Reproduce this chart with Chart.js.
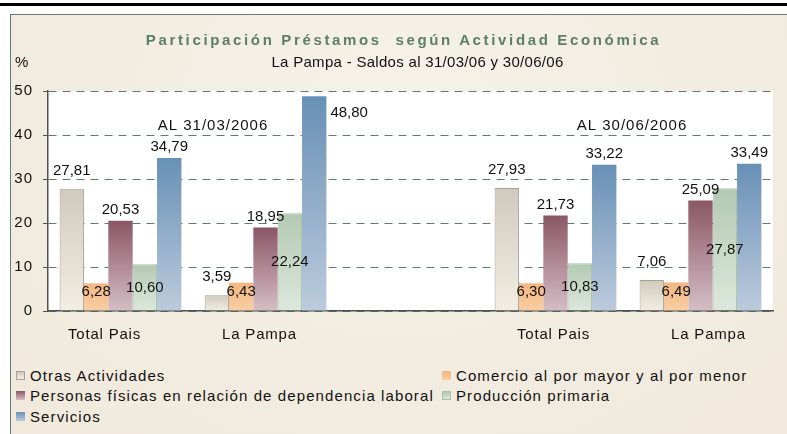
<!DOCTYPE html>
<html>
<head>
<meta charset="utf-8">
<script src="https://cdn.jsdelivr.net/npm/chart.js@4.4.0/dist/chart.umd.min.js"></script>
<style>
  body { margin: 0; width: 787px; height: 434px; overflow: hidden; background: #fff; position: relative;
         font-family: "Liberation Sans", Arial, sans-serif; color: #111; }
  #topline { position: absolute; left: 0; top: 3px; width: 787px; height: 3px; background: #000; }
  #frame { position: absolute; left: 10px; top: 14px; width: 777px; height: 420px;
           border-left: 1px solid #5f7f6f; border-top: 1px solid #5f7f6f;
           background: radial-gradient(ellipse at 50% 25%, #f6f2e9 0%, #f2ece0 60%, #f0e9dc 100%); }
  #grafico { position: absolute; left: 0; top: 0; }
  .titulo { position: absolute; left: 0; width: 787px; text-align: center; white-space: pre; }
  #t1 { top: 31px; left: 10px; font-size: 15px; font-weight: bold; color: #5e7e6c; letter-spacing: 2.65px; }
  #t2 { top: 53px; left: 24px; font-size: 15px; letter-spacing: 0.3px; }
  #pct { position: absolute; left: 15px; top: 53px; font-size: 15px; }
  #leyenda { position: absolute; left: 16px; top: 365px; display: grid;
             grid-template-columns: 426px auto; grid-auto-rows: 20.5px; font-size: 15px; letter-spacing: 1.1px; }
  #leyenda div { display: flex; align-items: center; white-space: nowrap; }
  #leyenda span.caja { width: 9px; height: 9px; margin-right: 5px; box-sizing: border-box; }
</style>
</head>
<body>
<div id="topline"></div>
<div id="frame"></div>
<canvas id="grafico" width="787" height="360"></canvas>
<div class="titulo" id="t1">Participación Préstamos  según Actividad Económica</div>
<div class="titulo" id="t2">La Pampa - Saldos al 31/03/06 y 30/06/06</div>
<div id="pct">%</div>
<div id="leyenda"></div>
<script>
const grupos = ["Total Pais", "La Pampa", "", "Total Pais", "La Pampa"];
const periodos = ["AL 31/03/2006", "AL 30/06/2006"];
const nombresSeries = [
  "Otras Actividades",
  "Comercio al por mayor y al por menor",
  "Personas físicas en relación de dependencia laboral",
  "Producción primaria",
  "Servicios"
];
const otrasActividades = [27.81, 3.59, null, 27.93, 7.06];
const comercio = [6.28, 6.43, null, 6.30, 6.49];
const personasFisicas = [20.53, 18.95, null, 21.73, 25.09];
const produccionPrimaria = [10.60, 22.24, null, 10.83, 27.87];
const servicios = [34.79, 48.80, null, 33.22, 33.49];
const yTicks = [0, 10, 20, 30, 40, 50];

// colores: arriba / abajo del degradado, borde
const estilos = [
  { arriba: "#d0cabd", abajo: "#f2eee3", borde: "#a6a29a", ancho: 1, etiqueta: "arriba", sep: 18 },
  { arriba: "#f3b680", abajo: "#f8cfa3", borde: "#f3b680", ancho: 0, etiqueta: "medio", sep: 5 },
  { arriba: "#8b5666", abajo: "#d5bec6", borde: "#8b5666", ancho: 0, etiqueta: "arriba", sep: 11 },
  { arriba: "#b2c9b1", abajo: "#dde8dc", borde: "#a9c1a8", ancho: 1, etiqueta: "medio", sep: 0 },
  { arriba: "#6890b6", abajo: "#bccbdc", borde: "#6890b6", ancho: 0, etiqueta: "arriba", sep: 11 }
];
const valores = [otrasActividades, comercio, personasFisicas, produccionPrimaria, servicios];
const fuente = '"Liberation Sans", Arial, sans-serif';

function degradado(arriba, abajo) {
  return function (context) {
    const { ctx, chartArea, scales } = context.chart;
    if (!chartArea || context.raw == null) return abajo;
    const y0 = scales.y.getPixelForValue(context.raw);
    const y1 = scales.y.getPixelForValue(0);
    if (!isFinite(y0) || y1 - y0 < 1) return arriba;
    const g = ctx.createLinearGradient(0, y0, 0, y1);
    g.addColorStop(0, arriba);
    g.addColorStop(1, abajo);
    return g;
  };
}

const datasets = valores.map((serie, i) => ({
  label: nombresSeries[i],
  data: serie,
  backgroundColor: degradado(estilos[i].arriba, estilos[i].abajo),
  borderColor: estilos[i].borde,
  borderWidth: estilos[i].ancho,
  etiqueta: estilos[i].etiqueta,
  sep: estilos[i].sep
}));

// fondo blanco del area de trazado
const fondoPlot = {
  id: "fondoPlot",
  beforeDraw(chart) {
    const { ctx, chartArea: a } = chart;
    ctx.letterSpacing = "1px"; // para las marcas del eje y
    ctx.save();
    ctx.fillStyle = "#fff";
    ctx.fillRect(a.left, a.top, a.right - a.left, a.bottom - a.top);
    ctx.restore();
  }
};

// etiquetas de valores, rotulos de periodo y categorias
const rotulos = {
  id: "rotulos",
  afterDraw(chart) {
    const ctx = chart.ctx;
    const top = chart.chartArea.top;
    ctx.save();
    ctx.letterSpacing = "0px";
    ctx.font = "15px " + fuente;
    ctx.fillStyle = "#111";
    ctx.textBaseline = "middle";
    chart.data.datasets.forEach((ds, i) => {
      chart.getDatasetMeta(i).data.forEach((bar, j) => {
        const v = ds.data[j];
        if (v == null) return;
        const txt = v.toFixed(2).replace(".", ",");
        let x = bar.x, y;
        ctx.textAlign = "center";
        if (ds.etiqueta === "medio") {
          y = (bar.y + bar.base) / 2 - ds.sep;
        } else {
          y = bar.y - ds.sep;
          if (y < top + 8) {
            x = bar.x + bar.width / 2 + 4;
            y = bar.y + 17;
            ctx.textAlign = "left";
          }
        }
        ctx.fillText(txt, x, y);
      });
    });
    const sx = chart.scales.x, sy = chart.scales.y;
    ctx.textAlign = "center";
    ctx.letterSpacing = "1px";
    const shift = [20, 4];
    periodos.forEach((p, k) => {
      const x = (sx.getPixelForValue(k * 3) + sx.getPixelForValue(k * 3 + 1)) / 2 + shift[k];
      ctx.fillText(p, x, sy.getPixelForValue(42));
    });
    // categorias (Excel las deja algo corridas respecto del grupo)
    ctx.letterSpacing = "0.8px";
    const corr = [-16, -6, 0, -2, 8];
    grupos.forEach((g, k) => {
      if (!g) return;
      ctx.fillText(g, sx.getPixelForValue(k) + corr[k], sx.bottom - 16);
    });
    ctx.restore();
  }
};

new Chart(document.getElementById("grafico"), {
  type: "bar",
  data: { labels: grupos, datasets: datasets },
  options: {
    responsive: false,
    animation: false,
    devicePixelRatio: 1,
    layout: { padding: { left: 10, right: 14, top: 91, bottom: 9 } },
    datasets: { bar: { categoryPercentage: 0.84, barPercentage: 1.0 } },
    plugins: { legend: { display: false }, tooltip: { enabled: false }, title: { display: false } },
    scales: {
      x: {
        grid: { display: false },
        border: { color: "#505050", width: 1.5 },
        ticks: { display: false },
        afterFit(scale) { scale.height = 40; }
      },
      y: {
        min: 0, max: 50,
        afterBuildTicks(scale) { scale.ticks = yTicks.map(v => ({ value: v })); },
        grid: { color: "#5c7c6c", lineWidth: 1, tickLength: 5, tickColor: "#505050" },
        border: { color: "#505050", width: 1.5, dash: [8, 6] },
        ticks: { color: "#111", font: { family: fuente, size: 15 }, padding: 10 },
        afterFit(scale) { scale.width = 38; }
      }
    }
  },
  plugins: [fondoPlot, rotulos]
});

// leyenda en html, dos columnas
const ley = document.getElementById("leyenda");
nombresSeries.forEach((n, i) => {
  const d = document.createElement("div");
  const c = document.createElement("span");
  c.className = "caja";
  c.style.background = "linear-gradient(" + estilos[i].arriba + "," + estilos[i].abajo + ")";
  if (estilos[i].ancho) c.style.border = "1px solid " + estilos[i].borde;
  d.appendChild(c);
  d.appendChild(document.createTextNode(n));
  ley.appendChild(d);
});
</script>
</body>
</html>
